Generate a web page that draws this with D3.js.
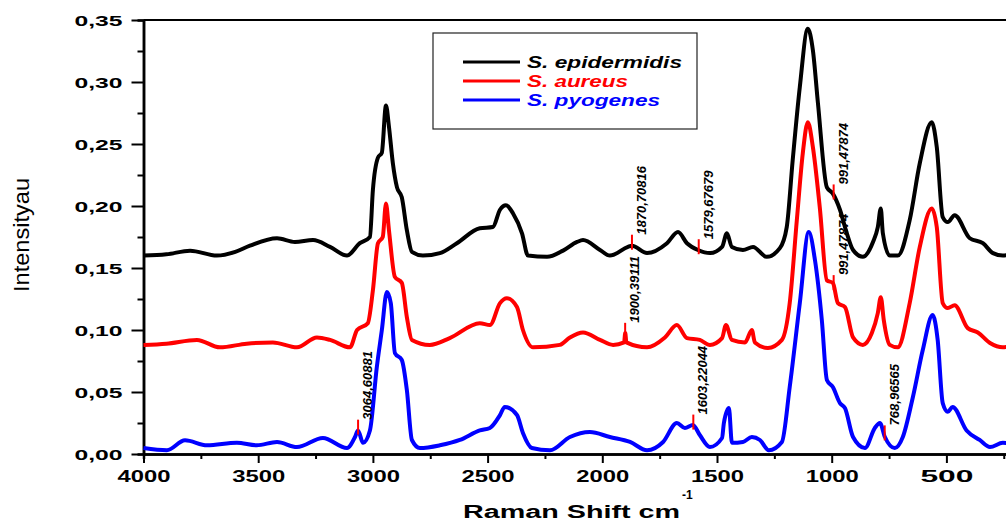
<!DOCTYPE html>
<html>
<head>
<meta charset="utf-8">
<script src="https://cdn.jsdelivr.net/npm/d3@7"></script>
<style>
  body { margin: 0; background: #fff; }
  svg { display: block; font-family: Arial, "Liberation Sans", sans-serif; }
</style>
</head>
<body>
<script>
// spectra: [raman shift, intensity]
var epidermidis = [[4000,0.160],[3900,0.161],[3797,0.164],[3680,0.160],[3600,0.163],[3536,0.168],[3418,0.174],[3340,0.171],[3261,0.1725],[3187,0.167],[3113,0.160],[3057,0.170],[3013,0.175],[3000,0.213],[2978,0.239],[2961,0.243],[2943,0.281],[2930,0.264],[2913,0.2345],[2895,0.215],[2874,0.207],[2852,0.1805],[2830,0.163],[2782,0.160],[2708,0.162],[2634,0.170],[2534,0.182],[2477,0.183],[2446,0.197],[2420,0.2007],[2389,0.194],[2350,0.178],[2324,0.160],[2241,0.159],[2171,0.164],[2110,0.171],[2084,0.1725],[2010,0.1645],[1967,0.160],[1888,0.167],[1871,0.168],[1805,0.162],[1718,0.170],[1670,0.179],[1631,0.170],[1583,0.1645],[1530,0.162],[1478,0.167],[1457,0.178],[1435,0.167],[1387,0.1645],[1343,0.167],[1283,0.159],[1226,0.166],[1196,0.183],[1170,0.237],[1139,0.296],[1104,0.343],[1082,0.3256],[1060,0.283],[1021,0.215],[995,0.210],[964,0.197],[934,0.178],[907,0.1645],[864,0.159],[820,0.171],[799,0.183],[786,0.198],[777,0.178],[747,0.160],[712,0.160],[660,0.1886],[616,0.2345],[564,0.2676],[542,0.2475],[516,0.191],[494,0.187],[464,0.1926],[398,0.174],[341,0.170],[297,0.162],[254,0.160],[200,0.163]];

var aureus = [[4000,0.0879],[3900,0.089],[3767,0.092],[3667,0.086],[3550,0.089],[3436,0.090],[3331,0.086],[3244,0.094],[3187,0.092],[3100,0.086],[3069,0.100],[3022,0.1055],[3000,0.132],[2978,0.170],[2957,0.175],[2943,0.202],[2930,0.1805],[2904,0.1427],[2874,0.138],[2852,0.1104],[2830,0.092],[2752,0.088],[2665,0.0935],[2534,0.1055],[2490,0.104],[2446,0.1217],[2416,0.1257],[2372,0.1185],[2346,0.100],[2302,0.086],[2185,0.088],[2141,0.094],[2084,0.098],[2010,0.092],[1953,0.088],[1905,0.090],[1900,0.0975],[1895,0.090],[1805,0.086],[1727,0.094],[1675,0.104],[1631,0.0935],[1575,0.092],[1531,0.088],[1478,0.0935],[1461,0.104],[1435,0.092],[1378,0.090],[1348,0.100],[1335,0.090],[1278,0.0855],[1217,0.092],[1183,0.1217],[1152,0.1886],[1126,0.2426],[1104,0.2676],[1082,0.2475],[1052,0.199],[1021,0.140],[995,0.138],[973,0.1217],[942,0.1185],[907,0.094],[864,0.088],[825,0.0975],[799,0.1136],[786,0.1265],[773,0.108],[747,0.088],[712,0.086],[660,0.1217],[616,0.167],[564,0.198],[542,0.183],[516,0.1217],[494,0.1177],[464,0.120],[407,0.1015],[363,0.098],[310,0.0895],[254,0.086],[200,0.088]];

var pyogenes = [[4000,0.0048],[3898,0.003],[3819,0.011],[3723,0.007],[3593,0.009],[3506,0.007],[3418,0.0097],[3331,0.0056],[3218,0.0129],[3113,0.0048],[3078,0.0137],[3065,0.019],[3043,0.009],[3013,0.019],[2983,0.070],[2961,0.100],[2939,0.1306],[2922,0.1217],[2904,0.0814],[2874,0.0758],[2852,0.0516],[2830,0.0113],[2795,0.0048],[2708,0.007],[2621,0.0113],[2534,0.019],[2490,0.021],[2446,0.0314],[2425,0.038],[2372,0.0314],[2346,0.017],[2307,0.0048],[2228,0.003],[2141,0.0137],[2054,0.0177],[1967,0.0137],[1879,0.0097],[1805,0.003],[1735,0.0097],[1675,0.025],[1640,0.021],[1605,0.0234],[1575,0.0153],[1531,0.0056],[1478,0.0129],[1470,0.025],[1448,0.037],[1435,0.009],[1387,0.0097],[1348,0.0137],[1313,0.0113],[1274,0.003],[1217,0.0097],[1183,0.054],[1139,0.1217],[1100,0.179],[1073,0.1564],[1043,0.108],[1021,0.0597],[995,0.054],[964,0.041],[942,0.037],[907,0.0137],[855,0.0048],[812,0.021],[790,0.025],[768,0.0137],[725,0.0048],[690,0.0137],[646,0.046],[603,0.0838],[560,0.112],[538,0.092],[516,0.041],[494,0.034],[473,0.038],[412,0.019],[355,0.0113],[310,0.0056],[254,0.009],[200,0.008]];

var seriesNames = ["S. epidermidis", "S. aureus", "S. pyogenes"];
var seriesData = [epidermidis, aureus, pyogenes];
var seriesColors = ["#000000", "#ff0000", "#0000ff"];

var xTicks = [4000, 3500, 3000, 2500, 2000, 1500, 1000, 500];
var yTicks = [0, 0.05, 0.10, 0.15, 0.20, 0.25, 0.30, 0.35];

// peak labels: shift, series index, text
var peakShift = [1870.70816, 1579.67679, 991.47874, 991.47874, 1900.39111, 3064.60881, 1603.22044, 768.96565];
var peakSeries = [0, 0, 0, 1, 1, 2, 2, 2];
var peakLabels = ["1870,70816", "1579,67679", "991,47874", "991,47874", "1900,39111", "3064,60881", "1603,22044", "768,96565"];

function init(){
    var w = 1006;
    var h = 521;
    var left = 143.5, top = 20, bottom = 454;

    var svg = d3.select("body")
        .append("svg")
        .attr("width", w)
        .attr("height", h);

    var x = d3.scaleLinear()
        .domain([4000, 0])
        .range([left, left + 8 * 114.7]);
    var y = d3.scaleLinear()
        .domain([0, 0.35])
        .range([bottom, top]);

    var fmt = function(d){ return d3.format(".2f")(d).replace(".", ","); };

    // top frame line
    svg.append("line")
        .attr("x1", left).attr("x2", w)
        .attr("y1", top).attr("y2", top)
        .attr("stroke", "#000").attr("stroke-width", 2);

    // minor ticks
    var xAxisMinor = svg.append("g")
        .attr("transform", "translate(0," + bottom + ")")
        .call(d3.axisBottom(x).tickValues(d3.range(3750, 0, -500)).tickSize(5).tickFormat(""));
    var yAxisMinor = svg.append("g")
        .attr("transform", "translate(" + left + ",0)")
        .call(d3.axisLeft(y).tickValues([0.025, 0.075, 0.125, 0.175, 0.225, 0.275, 0.325]).tickSize(6).tickFormat(""));

    var xAxis = svg.append("g")
        .attr("transform", "translate(0," + bottom + ")")
        .call(d3.axisBottom(x).tickValues(xTicks).tickSize(9).tickSizeOuter(0).tickFormat(d3.format("d")));
    xAxis.selectAll("text")
        .attr("y", 28).attr("dy", 0)
        .attr("textLength", 53).attr("lengthAdjust", "spacingAndGlyphs")
        .style("font-size", "17px").style("font-weight", "bold").attr("fill", "#000");

    var yAxis = svg.append("g")
        .attr("transform", "translate(" + left + ",0)")
        .call(d3.axisLeft(y).tickValues(yTicks).tickSize(12).tickSizeOuter(0).tickFormat(fmt));
    yAxis.selectAll("text")
        .attr("x", -69).attr("dy", "0.36em")
        .style("text-anchor", "start")
        .attr("textLength", 48).attr("lengthAdjust", "spacingAndGlyphs")
        .style("font-size", "15px").style("font-weight", "bold").attr("fill", "#000");

    [xAxis, yAxis, xAxisMinor, yAxisMinor].forEach(function(a){
        a.selectAll("line").attr("stroke", "#000").attr("stroke-width", 2);
        a.select(".domain").attr("stroke", "#000").attr("stroke-width", 2.5);
    });

    // spectra
    var line = d3.line()
        .curve(d3.curveMonotoneX)
        .x(function(d){ return x(d[0]); })
        .y(function(d){ return y(d[1]); });

    svg.selectAll("path.spec")
        .data(seriesData)
        .enter()
        .append("path")
        .attr("class", "spec")
        .attr("d", line)
        .attr("fill", "none")
        .attr("stroke", function(d, i){ return seriesColors[i]; })
        .attr("stroke-width", 4)
        .attr("stroke-linejoin", "round");

    // value of a series at some shift (data is in decreasing order)
    function valueAt(data, s){
        for (var i = 0; i < data.length - 1; i++){
            if (s <= data[i][0] && s >= data[i + 1][0]){
                var t = (data[i][0] - s) / (data[i][0] - data[i + 1][0]);
                return data[i][1] + t * (data[i + 1][1] - data[i][1]);
            }
        }
        return data[data.length - 1][1];
    }

    peakShift.forEach(function(s, i){
        var px = x(s);
        var py = y(valueAt(seriesData[peakSeries[i]], s));
        svg.append("line")
            .attr("x1", px).attr("x2", px)
            .attr("y1", py - 11).attr("y2", py + 4)
            .attr("stroke", "#ff0000").attr("stroke-width", 2);
        svg.append("text")
            .attr("transform", "translate(" + (px + 14) + "," + (py - 11) + ") rotate(-90)")
            .style("font-size", "13px").style("font-weight", "bold").style("font-style", "italic")
            .attr("fill", "#000")
            .text(peakLabels[i]);
    });

    // legend
    var legend = svg.append("g");
    legend.append("rect")
        .attr("x", 433).attr("y", 33).attr("width", 264).attr("height", 96)
        .attr("fill", "#fff").attr("stroke", "#222").attr("stroke-width", 1.2);
    var legendLen = [155, 101, 133];
    seriesNames.forEach(function(n, i){
        var ly = 62 + i * 19;
        legend.append("line")
            .attr("x1", 463).attr("x2", 520).attr("y1", ly).attr("y2", ly)
            .attr("stroke", seriesColors[i]).attr("stroke-width", 3);
        legend.append("text")
            .attr("x", 527).attr("y", ly + 6)
            .attr("textLength", legendLen[i]).attr("lengthAdjust", "spacingAndGlyphs")
            .style("font-size", "16px").style("font-weight", "bold").style("font-style", "italic")
            .attr("fill", seriesColors[i])
            .text(n);
    });

    // axis titles
    svg.append("text")
        .attr("transform", "translate(29,235) rotate(-90)")
        .attr("text-anchor", "middle")
        .attr("textLength", 114).attr("lengthAdjust", "spacingAndGlyphs")
        .style("font-size", "22px")
        .attr("fill", "#000")
        .text("Intensityau");

    svg.append("text")
        .attr("x", 463).attr("y", 518)
        .attr("textLength", 217).attr("lengthAdjust", "spacingAndGlyphs")
        .style("font-size", "18px").style("font-weight", "bold")
        .attr("fill", "#000")
        .text("Raman Shift cm");
    svg.append("text")
        .attr("x", 682).attr("y", 499)
        .style("font-size", "12px").style("font-weight", "bold")
        .attr("fill", "#000")
        .text("-1");
}

window.onload = init;
</script>
</body>
</html>
